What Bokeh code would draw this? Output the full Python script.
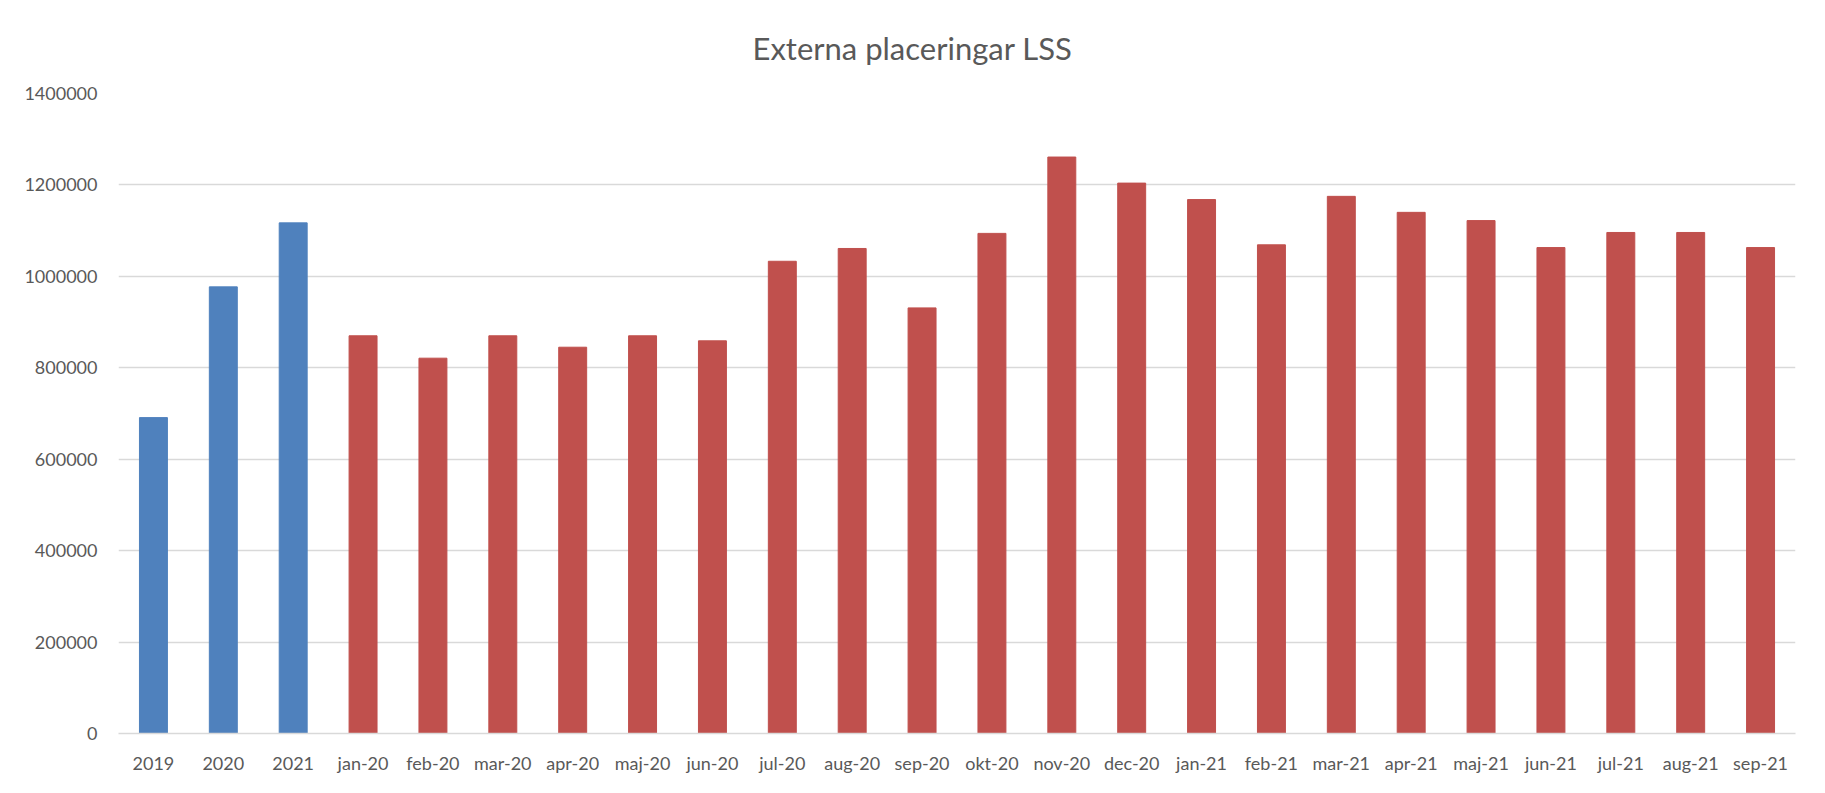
from bokeh.plotting import figure
from bokeh.models import FixedTicker, NumeralTickFormatter, Range1d
from bokeh.embed import file_html
from bokeh.resources import INLINE

# ---- data ----
year_cats = ["2019", "2020", "2021"]
year_vals = [691000, 977000, 1117000]

month_cats = ["jan-20", "feb-20", "mar-20", "apr-20", "maj-20", "jun-20",
              "jul-20", "aug-20", "sep-20", "okt-20", "nov-20", "dec-20",
              "jan-21", "feb-21", "mar-21", "apr-21", "maj-21", "jun-21",
              "jul-21", "aug-21", "sep-21"]
month_vals = [870000, 821000, 870000, 845000, 870000, 859000,
              1033000, 1061000, 931000, 1094000, 1261000, 1204000,
              1168000, 1069000, 1175000, 1140000, 1122000, 1063000,
              1096000, 1096000, 1063000]

y_ticks = [0, 200000, 400000, 600000, 800000, 1000000, 1200000, 1400000]
title_text = "Externa placeringar LSS"

FONT = "Lato"
GRAY = "#595959"

p = figure(x_range=year_cats + month_cats, y_range=Range1d(0, 1400000),
           width=1809, height=777, output_backend="svg", toolbar_location=None,
           title=title_text,
           min_border_left=118, min_border_right=14, min_border_top=93, min_border_bottom=44)

p.vbar(x=year_cats, top=year_vals, width=0.4, color="#4f81bd")
p.vbar(x=month_cats, top=month_vals, width=0.4, color="#c0504d")

p.title.align = "left"
p.title.offset = 634
p.title.vertical_align = "bottom"
p.title.standoff = 53
p.title.text_font = FONT
p.title.text_font_size = "31px"
p.title.text_font_style = "normal"
p.title.text_color = GRAY

p.outline_line_color = None
p.background_fill_color = "white"
p.border_fill_color = "white"
p.xgrid.grid_line_color = None
p.ygrid.grid_line_color = "#d9d9d9"
p.ygrid.grid_line_width = 1.5

p.yaxis.ticker = FixedTicker(ticks=y_ticks)
p.yaxis.formatter = NumeralTickFormatter(format="0")
p.yaxis.axis_line_color = None
p.yaxis.major_tick_line_color = None
p.yaxis.minor_tick_line_color = None
p.yaxis.major_label_standoff = 15

p.xaxis.axis_line_color = "#d9d9d9"
p.xaxis.axis_line_width = 1.5
p.xaxis.major_tick_line_color = None
p.xaxis.minor_tick_line_color = None
p.xaxis.major_label_standoff = 12

for ax in (p.xaxis, p.yaxis):
    ax.major_label_text_font = FONT
    ax.major_label_text_font_size = "18px"
    ax.major_label_text_color = GRAY

open("out.html", "w").write(file_html(p, INLINE))
